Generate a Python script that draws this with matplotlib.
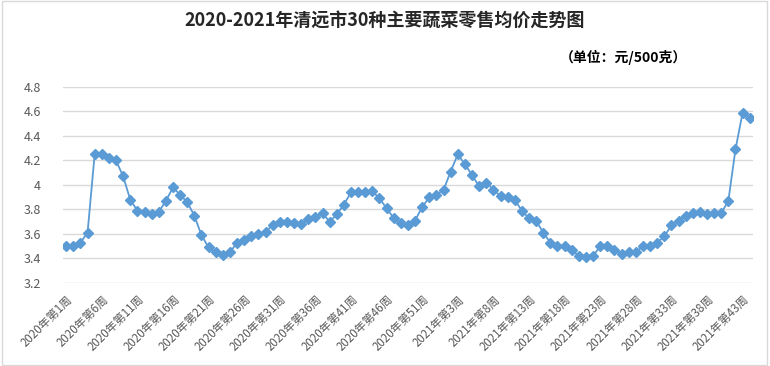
import matplotlib.pyplot as plt
import numpy as np

plt.rcParams['font.family'] = ['Noto Sans CJK SC', 'DejaVu Sans']

# weekly average retail price (yuan / 500g)
prices_2020 = [3.50, 3.50, 3.53, 3.61, 4.25, 4.25, 4.22, 4.20, 4.07, 3.88,
               3.79, 3.78, 3.76, 3.78, 3.87, 3.98, 3.92, 3.86, 3.75, 3.59,
               3.49, 3.45, 3.43, 3.45, 3.53, 3.55, 3.58, 3.60, 3.62, 3.67,
               3.70, 3.70, 3.69, 3.68, 3.72, 3.74, 3.77, 3.70, 3.76, 3.84,
               3.94, 3.94, 3.94, 3.95, 3.89, 3.81, 3.73, 3.69, 3.67, 3.71,
               3.82, 3.90, 3.92]
prices_2021 = [3.96, 4.11, 4.25, 4.17, 4.08, 3.99, 4.02, 3.96, 3.91, 3.90,
               3.88, 3.79, 3.73, 3.71, 3.61, 3.53, 3.50, 3.50, 3.47, 3.42,
               3.41, 3.42, 3.50, 3.50, 3.47, 3.44, 3.45, 3.45, 3.50, 3.50,
               3.53, 3.58, 3.67, 3.71, 3.75, 3.77, 3.78, 3.76, 3.77, 3.77,
               3.87, 4.29, 4.59, 4.55]

weeks = ['2020年第%d周' % w for w in range(1, len(prices_2020) + 1)] + \
        ['2021年第%d周' % w for w in range(1, len(prices_2021) + 1)]
prices = prices_2020 + prices_2021
x = np.arange(len(prices))

fig = plt.figure(figsize=(7.7, 3.66), dpi=100, facecolor='w')
ax = fig.add_axes([0.0818, 0.2268, 0.896, 0.5355])

ax.plot(x, prices, color='#5B9BD5', lw=1.3, marker='D', markersize=5,
        markerfacecolor='#5B9BD5', markeredgecolor='#5B9BD5')

ax.set_ylim(3.2, 4.8)
ax.set_xlim(-0.45, len(prices) - 0.55)
yt = np.arange(3.2, 4.81, 0.2)
ax.set_yticks(yt)
ax.set_yticklabels(['%g' % round(v, 1) for v in yt], color='#595959', fontsize=9)
ax.set_xticks(x[::5])
ax.set_xticklabels(weeks[::5], rotation=45, ha='right', rotation_mode='anchor',
                   color='#595959', fontsize=8.3)
ax.tick_params(axis='both', length=0)
ax.tick_params(axis='y', pad=16)
ax.tick_params(axis='x', pad=7)
ax.grid(axis='y', color='#D9D9D9', lw=1)
ax.set_axisbelow(True)
for s in ax.spines.values():
    s.set_visible(False)

fig.text(0.5, 0.945, '2020-2021年清远市30种主要蔬菜零售均价走势图', ha='center', va='center',
         fontsize=13, fontweight='bold', color='#262626')
fig.text(0.81, 0.842, '（单位：元/500克）', ha='center', va='center',
         fontsize=10, fontweight='bold', color='#000000')

fig.patches.append(plt.Rectangle((0.002, 0.003), 0.994, 0.994, transform=fig.transFigure,
                                 fill=False, edgecolor='#D9D9D9', lw=1))

fig.savefig('out.png', dpi=100)
